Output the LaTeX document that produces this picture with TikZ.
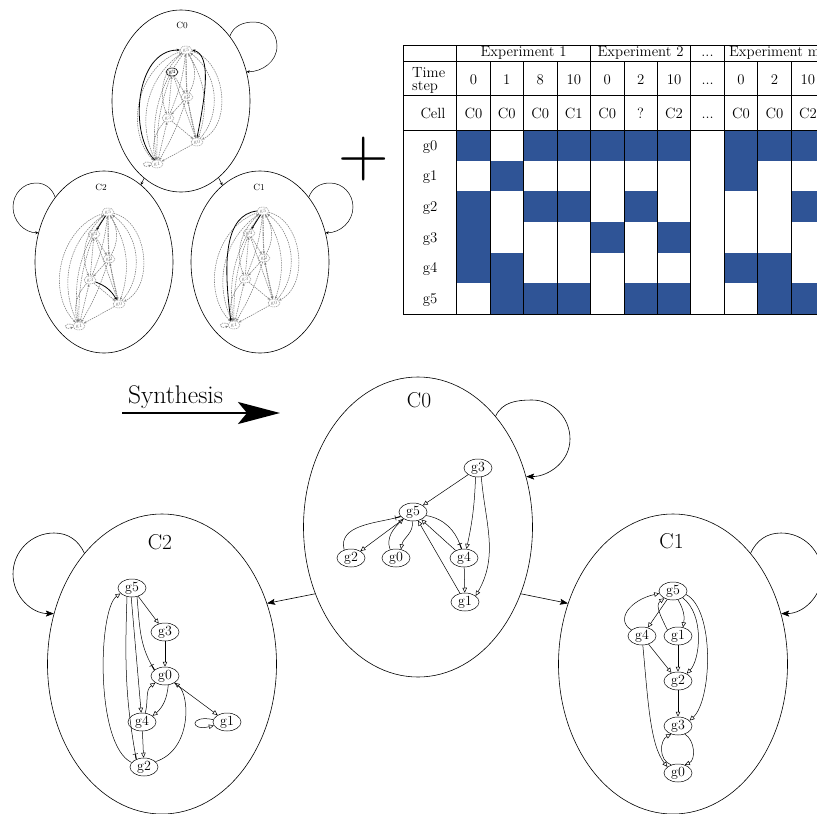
\documentclass[tikz,border=0pt]{standalone}
\usetikzlibrary{shapes.geometric,arrows.meta}

\definecolor{cellblue}{RGB}{47,84,150}
\definecolor{wiregray}{RGB}{125,125,125}
\newcommand\tdots{...}

% Small regulatory graph: #1 name prefix, (#2,#3) position of g5, #4 extra style for g4
\newcommand\minigraph[4]{%
  \begin{scope}[shift={(#2,#3)}]
    \node[minigene] (#1g5) at (0,0) {g5};
    \node[minigene,#4] (#1g4) at (-14,22) {g4};
    \node[minigene] (#1g2) at (1,47) {g2};
    \node[minigene] (#1g3) at (-18,68) {g3};
    \node[minigene] (#1g0) at (11,92) {g0};
    \node[minigene] (#1g1) at (-29,114) {g1};
  \end{scope}
  \draw[wire,wtip] (#1g5) to[bend right=22] (#1g1);
  \draw[wire,wtail] (#1g5) to[bend right=40] (#1g1);
  \draw[wire,wtip] (#1g5) to[bend right=58] (#1g1);
  \draw[wire,wtip] (#1g5) to[bend left=25] (#1g0);
  \draw[wire,wtail] (#1g5) to[bend left=48] (#1g0);
  \draw[wire,wtip] (#1g5) to[bend left=70] (#1g0);
  \draw[wire,wtip] (#1g5) to[bend right=35] (#1g3);
  \draw[wire,wtail] (#1g5) to[bend left=8] (#1g3);
  \draw[wire,wtip] (#1g5) -- (#1g2);
  \draw[wire,wtail] (#1g5) to[bend left=30] (#1g2);
  \draw[wire,wtip] (#1g5) to[bend right=8] (#1g0);
  \draw[wire,wtip] (#1g4) -- (#1g2);
  \draw[wire,wtail] (#1g4) -- (#1g3);
  \draw[wire,wtip] (#1g4) to[bend right=10] (#1g1);
  \draw[wire,wtip] (#1g4) -- (#1g0);
  \draw[wire,wtip] (#1g2) -- (#1g3);
  \draw[wire,wtail] (#1g2) -- (#1g0);
  \draw[wire,wtip] (#1g2) to[bend left=6] (#1g1);
  \draw[wire,wtip] (#1g3) -- (#1g0);
  \draw[wire,wtail] (#1g3) -- (#1g1);
  \draw[wire,wtip] (#1g3) to[bend right=30] (#1g1);
  \draw[wire,wtip] (#1g0) -- (#1g1);
  \draw[wire,wtip] (#1g1.170) .. controls +(-10,-4) and +(-10,4) .. (#1g1.190);
}

\begin{document}
\begin{tikzpicture}[x=1pt,y=-1pt,
  cluster/.style={draw,ellipse,line width=0.6pt,inner sep=0pt},
  bigcluster/.style={cluster,minimum width=229pt,minimum height=300pt},
  minicluster/.style={cluster,minimum width=138pt,minimum height=182pt},
  biglabel/.style={inner sep=0pt,font=\fontsize{21.5}{22}\selectfont},
  minilabel/.style={inner sep=0pt,font=\fontsize{9}{9}\selectfont},
  gene/.style={draw,ellipse,line width=0.5pt,inner sep=0pt,minimum width=28pt,minimum height=18pt,font=\fontsize{14}{14}\selectfont},
  minigene/.style={draw=wiregray,dash pattern=on 1pt off 0.8pt,ellipse,inner sep=0pt,minimum width=12pt,minimum height=8pt,text=wiregray,font=\fontsize{5}{5}\selectfont,line width=0.45pt},
  act/.style={line width=0.5pt,-{Triangle[open,length=5pt,width=4.5pt]}},
  inh/.style={line width=0.5pt,-{Bar[width=5pt,sep=0pt]Rectangle[length=5pt,width=0pt,sep=0pt]}},
  trans/.style={line width=0.6pt,-{Stealth[length=8pt,width=6pt,inset=1.5pt]}},
  minitrans/.style={line width=0.5pt,-{Stealth[length=3pt,width=3pt]}},
  wire/.style={draw=wiregray,dash pattern=on 1.5pt off 0.9pt,line width=0.55pt},
  wtip/.style={-{Stealth[length=2.6pt,width=2.4pt]}},
  wtail/.style={{Stealth[length=2.6pt,width=2.4pt]}-},
  solidwire/.style={black,line width=0.8pt,-{Stealth[length=3pt,width=2.6pt]}},
  cell/.style={inner sep=0pt,font=\fontsize{14.8}{13.5}\selectfont},
  rule/.style={line width=0.8pt},
]
\useasboundingbox (0,0) rectangle (817,814);
\clip (0,0) rectangle (817,814);

% ---------- inferred models (top left) ----------
\node[minicluster] (mC0) at (181,101) {};
\node[minicluster] (mC2) at (104,262) {};
\node[minicluster] (mC1) at (260,262) {};
\node[minilabel] (mC0-label) at (182,25) {C0};
\node[minilabel] (mC2-label) at (101,187) {C2};
\node[minilabel] (mC1-label) at (259,187) {C1};

\minigraph{m0}{186}{50}{solid,draw=black,text=black,line width=0.6pt}
\minigraph{m2}{108}{212}{}
\minigraph{m1}{263}{211}{}

\draw[solidwire] (m0g1.120) .. controls +(-26,-25) and +(-45,0) .. (m0g5.west);
\draw[solidwire] (m0g0.north) .. controls +(8,-40) and +(20,5) .. (m0g5.east);
\draw[solidwire] (m2g5) -- (m2g4);
\draw[solidwire] (m2g3) to[bend left=20] (m2g0);
\draw[solidwire] (m1g5) -- (m1g4);
\draw[solidwire] (m1g5.west) .. controls +(-32,4) and +(-8,-60) .. (m1g1.130);

\draw[minitrans] (mC0) -- (mC2);
\draw[minitrans] (mC0) -- (mC1);
\draw[minitrans] (mC0.53) to[out=70,in=180] (254,22) to[out=0,in=90] (277,46) to[out=-90,in=0] (mC0.24);
\draw[minitrans] (mC2.127) to[out=110,in=0] (36,183) to[out=180,in=90] (13,207) to[out=-90,in=180] (mC2.156);
\draw[minitrans] (mC1.53) to[out=70,in=180] (330,183) to[out=0,in=90] (353,207) to[out=-90,in=0] (mC1.24);

% ---------- plus sign ----------
\node[inner sep=0pt,font=\fontsize{70}{70}\selectfont] (plus) at (363.5,159.5) {+};

% ---------- experiment table ----------
\foreach \bits [count=\r from 0] in {{1,0,1,1,1,1,1,0,1,1,1},{0,1,0,0,0,0,0,0,1,0,0},{1,0,1,1,0,1,0,0,0,0,1},{1,0,0,0,1,0,1,0,0,0,0},{1,1,0,0,0,0,0,0,1,1,0},{0,1,1,1,0,1,1,0,0,1,1}}{
  \foreach \b [count=\c from 0] in \bits {
    \ifnum\b=1 \fill[cellblue] ({456.7+\c*33.45},{130+\r*30.667}) rectangle ++(33.45,30.667);\fi
  }
}
\foreach \yy in {45,61,95,130,314} \draw[rule] (403,\yy) -- (830,\yy);
\foreach \xx in {403,456.7,590.5,690.8,724.3} \draw[rule] (\xx,45) -- (\xx,314);
\foreach \c in {1,2,3,5,6,9,10} \draw[rule] ({456.7+\c*33.45},61) -- ({456.7+\c*33.45},314);

\node[cell,anchor=base] (exp-1) at (523.6,56.5) {Experiment 1};
\node[cell,anchor=base] (exp-2) at (640.6,56.5) {Experiment 2};
\node[cell,anchor=base] (exp-dots) at (707.5,56.5) {\tdots};
\node[cell,anchor=base] (exp-m) at (774.5,56.5) {Experiment m};
\node[cell,anchor=north west,align=left] (hdr-time) at (412,66.9) {Time\\step};
\node[cell,anchor=base] (hdr-cell) at (433,118.5) {Cell};
\foreach \t/\cl [count=\c from 0] in {0/C0,1/C0,8/C0,10/C1,0/C0,2/?,10/C2,\tdots/\tdots,0/C0,2/C0,10/C2}{
  \node[cell,anchor=base] (time-\c) at ({473.4+\c*33.45},84) {\t};
  \node[cell,anchor=base] (cell-\c) at ({473.4+\c*33.45},118.5) {\cl};
}
\foreach \g [count=\r from 0] in {g0,g1,g2,g3,g4,g5}
  \node[cell,anchor=base] (gene-\g) at (430,{150+\r*30.667}) {\g};

% ---------- synthesis arrow ----------
\node[anchor=base,inner sep=0pt,font=\fontsize{25.5}{30}\selectfont] (synth) at (175.5,403) {Synthesis};
\coordinate (synth-from) at (122,413);
\coordinate (synth-to) at (280,413);
\draw[line width=2.6pt,-{Stealth[length=42pt,width=22pt,inset=9pt]}] (synth-from) -- (synth-to);

% ---------- synthesised model ----------
\node[bigcluster] (C0big) at (418,527) {};
\node[bigcluster] (C2big) at (162,664) {};
\node[bigcluster] (C1big) at (673,664) {};
\node[biglabel] (C0big-label) at (419,400) {C0};
\node[biglabel] (C2big-label) at (160,542) {C2};
\node[biglabel] (C1big-label) at (671.5,541) {C1};

\draw[trans] (C0big.213) -- (C2big.30);
\draw[trans] (C0big.327) -- (C1big.150);
\draw[trans] (C0big.55) to[out=65,in=180] (532,400) to[out=0,in=90] (570,439) to[out=-90,in=0] (C0big.25);
\draw[trans] (C2big.125) to[out=115,in=0] (54,533) to[out=180,in=90] (13,574) to[out=-90,in=180] (C2big.155);
\draw[trans] (C1big.55) to[out=65,in=180] (781,533) to[out=0,in=90] (822,574) to[out=-90,in=0] (C1big.25);

% C0 regulatory graph
\node[gene] (c0g3) at (478,468) {g3};
\node[gene] (c0g5) at (413,512) {g5};
\node[gene] (c0g2) at (351,558) {g2};
\node[gene] (c0g0) at (396,558) {g0};
\node[gene] (c0g4) at (464,558) {g4};
\node[gene] (c0g1) at (465,602) {g1};
\draw[act] (c0g3) -- (c0g5);
\draw[act] (c0g3.-105) to[bend left=5] (c0g4.75);
\draw[act] (c0g3.-70) to[out=-85,in=60] (c0g1.30);
\draw[act] (c0g5) -- (c0g2);
\draw[inh] (c0g2.130) to[out=105,in=195] (c0g5.200);
\draw[act] (c0g5.-95) to[out=-80,in=80] (c0g0.60);
\draw[act] (c0g0.125) to[out=110,in=225] (c0g5.215);
\draw[inh] (c0g5.-15) to[out=-10,in=110] (c0g4.105);
\draw[act] (c0g4) -- (c0g5);
\draw[act] (c0g1) -- (c0g5);
\draw[act] (c0g4) -- (c0g1);

% C2 regulatory graph
\node[gene] (c2g5) at (132,588) {g5};
\node[gene] (c2g3) at (165,632) {g3};
\node[gene] (c2g0) at (165,676) {g0};
\node[gene] (c2g4) at (142,722) {g4};
\node[gene] (c2g1) at (227,722) {g1};
\node[gene] (c2g2) at (144,767) {g2};
\draw[act] (c2g5) -- (c2g3);
\draw[act] (c2g3) -- (c2g0);
\draw[inh] (c2g5.-60) to[out=-85,in=120] (c2g0.150);
\draw[act] (c2g5.-95) -- (c2g4.95);
\draw[inh] (c2g5.-120) to[out=-92,in=100] (c2g2.135);
\draw[act] (c2g2.160) .. controls (95,745) and (98,610) .. (c2g5.-155);
\draw[act] (c2g0.-70) to[out=-95,in=40] (c2g4.30);
\draw[act] (c2g4.70) to[out=75,in=215] (c2g0.215);
\draw[act] (c2g0) -- (c2g1);
\draw[act] (c2g1.170) .. controls +(-24,-5) and +(-24,6) .. (c2g1.195);
\draw[act] (c2g4) -- (c2g2);
\draw[act] (c2g2.25) .. controls (192,750) and (190,695) .. (c2g0.-35);

% C1 regulatory graph
\node[gene] (c1g5) at (673,591) {g5};
\node[gene] (c1g4) at (642,636) {g4};
\node[gene] (c1g1) at (678,636) {g1};
\node[gene] (c1g2) at (678,681) {g2};
\node[gene] (c1g3) at (678,726) {g3};
\node[gene] (c1g0) at (678,773) {g0};
\draw[act] (c1g4.150) .. controls (615,620) and (630,600) .. (c1g5.190);
\draw[act] (c1g5) -- (c1g4);
\draw[act] (c1g1.150) .. controls (660,615) and (655,605) .. (c1g5.-140);
\draw[act] (c1g5.-60) to[bend left=20] (c1g1.60);
\draw[act] (c1g5.-35) .. controls (705,615) and (700,660) .. (c1g2.40);
\draw[act] (c1g5.-15) .. controls (715,610) and (712,700) .. (c1g3.25);
\draw[act] (c1g4) -- (c1g2);
\draw[act] (c1g1) -- (c1g2);
\draw[act] (c1g2) -- (c1g3);
\draw[act] (c1g4.-85) .. controls (648,700) and (650,745) .. (c1g0.150);
\draw[act] (c1g0.130) .. controls (658,760) and (660,740) .. (c1g3.-130);
\draw[act] (c1g3.-50) .. controls (695,740) and (696,760) .. (c1g0.50);
\end{tikzpicture}
\end{document}
